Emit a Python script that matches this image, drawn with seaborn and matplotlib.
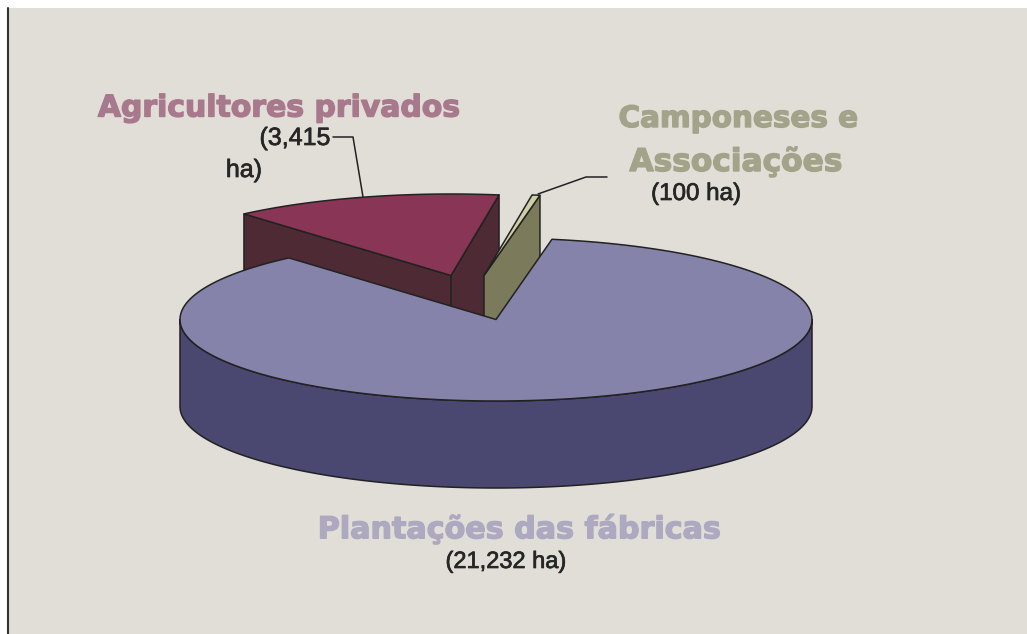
import numpy as np
import matplotlib
matplotlib.use("Agg")
import matplotlib.pyplot as plt
import matplotlib.patheffects as pe
from matplotlib.patches import Rectangle
import seaborn as sns

categories = ["Plantações das fábricas", "Agricultores privados", "Camponeses e\nAssociações"]
areas_ha = [21232, 3415, 100]
value_labels = ["(21,232 ha)", "(3,415", "(100 ha)"]

top_colors = sns.color_palette(["#8683AB", "#893556", "#CFCFA6"])
side_colors = sns.color_palette(["#4A4870", "#4D2A34", "#7B7B5B"])
label_colors = ["#ACA9C0", "#A8788C", "#A3A38A"]

BG = "#E1DED7"
EDGE = "#222222"
CX, CY, RX, RY, DEPTH = 496, 319.5, 316, 81.5, 87
EXPLODED_DEPTH = 95
START = 79.8
OFFSETS = [(0, 0), (-45, -44), (-12, -44)]

sns.set_theme(style="white")
plt.rcParams["font.family"] = ["Liberation Sans", "DejaVu Sans"]

fig = plt.figure(figsize=(10.27, 6.34), dpi=100, facecolor="white")
ax = fig.add_axes([0, 0, 1, 1])
ax.set_xlim(0, 1027)
ax.set_ylim(634, 0)
ax.axis("off")
ax.add_patch(Rectangle((8, 8), 1019, 626, fc=BG, ec="none", zorder=0))
ax.plot([7.5, 7.5], [8, 634], color="#333333", lw=1.5, zorder=1)

# sweep angles from the values, clockwise
sweeps = 360 * np.array(areas_ha, dtype=float) / sum(areas_ha)
starts = START - np.concatenate([[0], np.cumsum(sweeps)[:-1]])


def pt(theta, off=(0, 0), dz=0):
    t = np.radians(theta)
    return CX + off[0] + RX * np.cos(t), CY + off[1] - RY * np.sin(t) + dz


def arc(a, b, off=(0, 0), dz=0, n=200):
    return pt(np.linspace(a, b, n), off, dz)


def draw_poly(x, y, color, z):
    ax.fill(x, y, facecolor=color, edgecolor=EDGE, lw=1.1, joinstyle="round", zorder=z)


def radial_wall(theta, off, color, z):
    ax_, ay_ = CX + off[0], CY + off[1]
    ex, ey = pt(theta, off)
    draw_poly([ax_, ex, ex, ax_], [ay_, ey, ey + EXPLODED_DEPTH, ay_ + EXPLODED_DEPTH], color, z)


def top_face(a, b, off, color, z):
    x, y = arc(a, b, off)
    draw_poly(np.r_[CX + off[0], x], np.r_[CY + off[1], y], color, z)


# Agricultores privados (exploded)
radial_wall(starts[1], OFFSETS[1], side_colors[1], 2)
radial_wall(starts[1] - sweeps[1], OFFSETS[1], side_colors[1], 2)
top_face(starts[1], starts[1] - sweeps[1], OFFSETS[1], top_colors[1], 3)

# Camponeses e Associações (exploded)
radial_wall(starts[2] - sweeps[2], OFFSETS[2], side_colors[2], 4)
top_face(starts[2], starts[2] - sweeps[2], OFFSETS[2], top_colors[2], 5)

# Plantações das fábricas
xt, yt = arc(180, 360)
xb, yb = arc(180, 360, dz=DEPTH)
draw_poly(np.r_[xt, xb[::-1]], np.r_[yt, yb[::-1]], side_colors[0], 6)
top_face(starts[0], starts[0] - sweeps[0], OFFSETS[0], top_colors[0], 7)

# leader lines
ax.plot([333, 353, 363], [137, 137, 197], color=EDGE, lw=1.1, zorder=8)
ax.plot([538, 586, 607], [194, 177, 177], color=EDGE, lw=1.1, zorder=8)

# labels
head = dict(family="DejaVu Sans", weight="bold", ha="center", va="center", zorder=9)


def heading(x, y, s, color, size):
    t = ax.text(x, y, s, color=color, fontsize=size, **head)
    t.set_path_effects([pe.withStroke(linewidth=1.0, foreground=color)])


heading(279, 108, categories[1], label_colors[1], 21.5)
cam1, cam2 = categories[2].split("\n")
heading(738, 119, cam1, label_colors[2], 21.2)
heading(736, 162, cam2, label_colors[2], 22.5)
heading(519, 529, categories[0], label_colors[0], 21.7)


def small(x, y, s, size):
    t = ax.text(x, y, s, color="#262626", va="center", ha="center", fontsize=size, zorder=9)
    t.set_path_effects([pe.withStroke(linewidth=0.5, foreground="#262626")])


small(506, 562, value_labels[0], 17)
small(295, 138, value_labels[1], 18)
small(244, 170, "ha)", 18)
small(696, 194, value_labels[2], 17.4)

fig.savefig("out.png", dpi=100, facecolor="white")
